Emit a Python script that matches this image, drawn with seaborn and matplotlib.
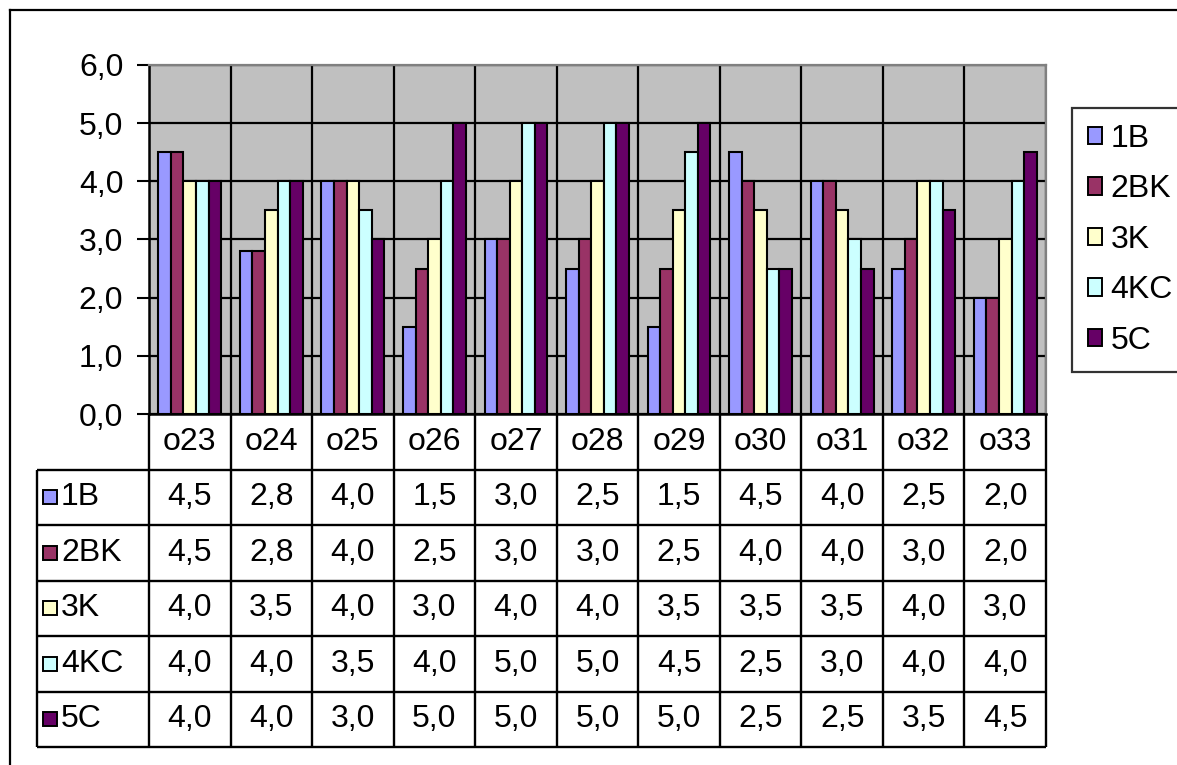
import numpy as np
import pandas as pd
import matplotlib
matplotlib.use("Agg")
import matplotlib.pyplot as plt
from matplotlib.patches import Patch
from matplotlib.lines import Line2D
import seaborn as sns

# ---- data ----
categories = ["o23", "o24", "o25", "o26", "o27", "o28", "o29", "o30", "o31", "o32", "o33"]
series_names = ["1B", "2BK", "3K", "4KC", "5C"]
s_1b = [4.5, 2.8, 4.0, 1.5, 3.0, 2.5, 1.5, 4.5, 4.0, 2.5, 2.0]
s_2bk = [4.5, 2.8, 4.0, 2.5, 3.0, 3.0, 2.5, 4.0, 4.0, 3.0, 2.0]
s_3k = [4.0, 3.5, 4.0, 3.0, 4.0, 4.0, 3.5, 3.5, 3.5, 4.0, 3.0]
s_4kc = [4.0, 4.0, 3.5, 4.0, 5.0, 5.0, 4.5, 2.5, 3.0, 4.0, 4.0]
s_5c = [4.0, 4.0, 3.0, 5.0, 5.0, 5.0, 5.0, 2.5, 2.5, 3.5, 4.5]
y_ticks = [0, 1, 2, 3, 4, 5, 6]

series_values = [s_1b, s_2bk, s_3k, s_4kc, s_5c]
colors = ["#9999FF", "#993366", "#FFFFCC", "#CCFFFF", "#660066"]
palette = dict(zip(series_names, colors))

df = pd.DataFrame(
    [(c, s, v) for s, vals in zip(series_names, series_values) for c, v in zip(categories, vals)],
    columns=["category", "series", "value"],
)


def fmt(v):
    return f"{v:.1f}".replace(".", ",")


W, H = 1177, 765
FS = 23
plt.rcParams["font.family"] = ["Liberation Sans", "DejaVu Sans"]

fig = plt.figure(figsize=(W / 100, H / 100), dpi=100)

# plot area in pixel coordinates
px_l, px_r, px_t, px_b = 149, 1046, 65, 414
ax = fig.add_axes([px_l / W, 1 - px_b / H, (px_r - px_l) / W, (px_b - px_t) / H])
ax.set_facecolor("#C0C0C0")

sns.barplot(
    data=df, x="category", y="value", hue="series", order=categories,
    hue_order=series_names, palette=palette, saturation=1, width=0.77,
    edgecolor="black", linewidth=1.5, legend=False, ax=ax, zorder=3,
)

ax.set_xlim(-0.5, len(categories) - 0.5)
ax.set_ylim(0, 6)
ax.set_yticks(y_ticks)
ax.set_yticklabels([fmt(v) for v in y_ticks], fontsize=FS)
ax.tick_params(axis="y", direction="out", length=8.5, width=1.5, color="black", pad=10)
ax.set_xticks(np.arange(len(categories)))
ax.set_xticklabels([])
ax.tick_params(axis="x", which="both", length=0)
ax.set_xticks(np.arange(-0.5, len(categories)), minor=True)
ax.set_xlabel("")
ax.set_ylabel("")
ax.set_axisbelow(True)
ax.grid(axis="y", which="major", color="black", linewidth=1.6, zorder=0)
ax.grid(axis="x", which="minor", color="black", linewidth=1.6, zorder=0)
ax.grid(axis="x", which="major", visible=False)
for side in ("top", "right"):
    ax.spines[side].set_color("#808080")
    ax.spines[side].set_linewidth(1.6)
for side in ("left", "bottom"):
    ax.spines[side].set_color("black")
    ax.spines[side].set_linewidth(1.8)

# ---- data table below the plot ----
tb_l, tb_b = 37, 747
unit_px = (px_r - px_l) / len(categories)
x_left = -0.5 - (px_l - tb_l) / unit_px
axt = fig.add_axes([tb_l / W, 1 - tb_b / H, (px_r - tb_l) / W, (tb_b - px_b) / H])
axt.set_xlim(x_left, len(categories) - 0.5)
axt.set_ylim(6, 0)
axt.axis("off")

lw = 1.7
n = len(categories)
axt.vlines(np.arange(-0.5, n), 0, 6, color="black", linewidth=lw, clip_on=False)
axt.vlines([x_left], 1, 6, color="black", linewidth=lw, clip_on=False)
axt.hlines(np.arange(1, 7), x_left, n - 0.5, color="black", linewidth=lw, clip_on=False)

for i, c in enumerate(categories):
    axt.text(i, 0.5, c, ha="center", va="center", fontsize=FS)

for r, (name, vals, col) in enumerate(zip(series_names, series_values, colors), start=1):
    axt.plot([x_left + 13 / unit_px], [r + 0.5], marker="s", markersize=10,
             markerfacecolor=col, markeredgecolor="black", markeredgewidth=1.4,
             linestyle="none", clip_on=False)
    axt.text(x_left + 24 / unit_px, r + 0.5, name, ha="left", va="center", fontsize=FS)
    for i, v in enumerate(vals):
        axt.text(i, r + 0.5, fmt(v), ha="center", va="center", fontsize=FS)

# ---- legend ----
handles = [Patch(facecolor=c, edgecolor="black", linewidth=1.4) for c in colors]
leg = fig.legend(
    handles, series_names, loc="upper left",
    bbox_to_anchor=(1072 / W, 1 - 108 / H), bbox_transform=fig.transFigure,
    fontsize=FS, frameon=True, fancybox=False, handlelength=0.45, handleheight=0.45,
    handletextpad=0.25, labelspacing=0.64, borderpad=0.5, borderaxespad=0,
)
leg.get_frame().set_edgecolor("black")
leg.get_frame().set_linewidth(1.6)

# outer chart frame
fig.add_artist(Line2D([10 / W, 10 / W], [0, 1 - 10 / H], color="black", linewidth=1.6,
                      transform=fig.transFigure))
fig.add_artist(Line2D([10 / W, 1], [1 - 10 / H, 1 - 10 / H], color="black", linewidth=1.6,
                      transform=fig.transFigure))

fig.savefig("out.png", dpi=100)
